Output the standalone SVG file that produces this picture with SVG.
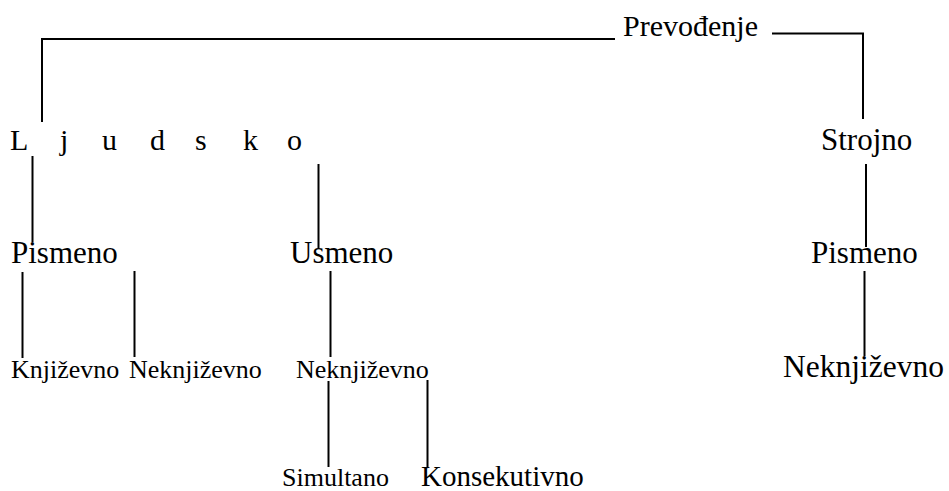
<svg xmlns="http://www.w3.org/2000/svg" width="949" height="491" viewBox="0 0 949 491">
<style>
text { font-family: "Liberation Serif", "Times New Roman", serif; fill: #000; }
.l { stroke: #000; stroke-width: 2; fill: none; }
.big { font-size: 31px; }
.mid { font-size: 26px; }
</style>
<rect width="949" height="491" fill="#fff"/>
<g id="connectors">
  <polyline class="l" points="42,122 42,39 615,39"/>
  <line class="l" x1="109" y1="39" x2="127" y2="39" stroke-width="2.6"/>
  <polyline class="l" points="772,33.5 863,33.5 863,119"/>
  <line class="l" x1="32.5" y1="156" x2="32.5" y2="242"/>
  <line class="l" x1="318.5" y1="164" x2="318.5" y2="248"/>
  <line class="l" x1="866" y1="164" x2="866" y2="247"/>
  <line class="l" x1="22.5" y1="272" x2="22.5" y2="358"/>
  <line class="l" x1="134.5" y1="271" x2="134.5" y2="357"/>
  <line class="l" x1="330.5" y1="271" x2="330.5" y2="357"/>
  <line class="l" x1="864.5" y1="271" x2="864.5" y2="356"/>
  <line class="l" x1="328.5" y1="381" x2="328.5" y2="467"/>
  <line class="l" x1="427.5" y1="380" x2="427.5" y2="467"/>
</g>
<g id="n-prevodenje"><text x="623" y="36" font-size="30">Prevođenje</text></g>
<g id="n-ljudsko"><text x="10 60 102 150 195 243 287" y="150" font-size="30">Ljudsko</text></g>
<g id="n-strojno"><text class="big" x="821" y="150">Strojno</text></g>
<g id="n-pismeno1"><text class="big" x="11" y="263">Pismeno</text></g>
<g id="n-usmeno"><text class="big" x="290" y="263">Usmeno</text></g>
<g id="n-pismeno2"><text class="big" x="811" y="263">Pismeno</text></g>
<g id="n-knjizevno"><text class="mid" x="11" y="378">Književno</text></g>
<g id="n-neknjizevno1"><text class="mid" x="129" y="378">Neknjiževno</text></g>
<g id="n-neknjizevno2"><text class="mid" x="296" y="378">Neknjiževno</text></g>
<g id="n-neknjizevno3"><text x="783" y="377" font-size="31.5">Neknjiževno</text></g>
<g id="n-simultano"><text class="mid" x="282" y="486">Simultano</text></g>
<g id="n-konsekutivno"><text x="421" y="486" font-size="29">Konsekutivno</text></g>
</svg>
